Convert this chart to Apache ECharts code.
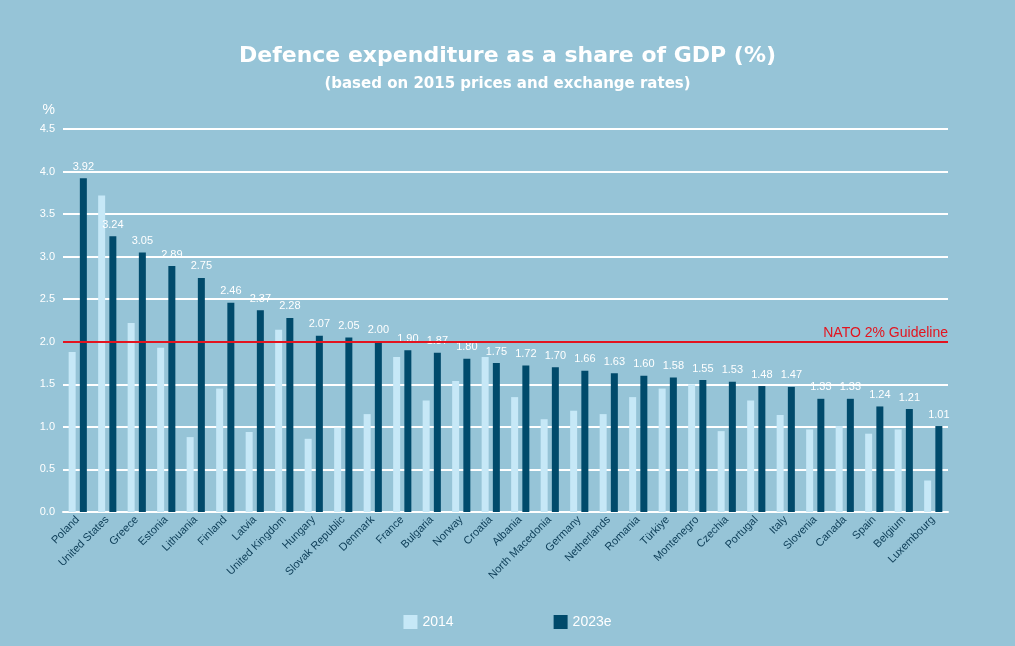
<!DOCTYPE html>
<html><head><meta charset="utf-8">
<script src="https://cdn.jsdelivr.net/npm/echarts@6/dist/echarts.min.js"></script>
<style>html,body{margin:0;background:#96c4d7}#c{width:1015px;height:646px}</style>
</head><body><div id="c"></div>
<script>
const categories=["Poland","United States","Greece","Estonia","Lithuania","Finland","Latvia","United Kingdom","Hungary","Slovak Republic","Denmark","France","Bulgaria","Norway","Croatia","Albania","North Macedonia","Germany","Netherlands","Romania","Türkiye","Montenegro","Czechia","Portugal","Italy","Slovenia","Canada","Spain","Belgium","Luxembourg"];
const values2014=[1.88,3.72,2.22,1.93,0.88,1.45,0.94,2.14,0.86,0.99,1.15,1.82,1.31,1.54,1.82,1.35,1.09,1.19,1.15,1.35,1.45,1.50,0.95,1.31,1.14,0.97,1.01,0.92,0.97,0.37];
const values2023=[3.92,3.24,3.05,2.89,2.75,2.46,2.37,2.28,2.07,2.05,2.00,1.90,1.87,1.80,1.75,1.72,1.70,1.66,1.63,1.60,1.58,1.55,1.53,1.48,1.47,1.33,1.33,1.24,1.21,1.01];
const yTicks=[0,0.5,1,1.5,2,2.5,3,3.5,4,4.5];
const guideline=2;
const ch=echarts.init(document.getElementById('c'));
ch.setOption({
 backgroundColor:'#96c4d7',
 title:{text:'Defence expenditure as a share of GDP (%)',subtext:'(based on 2015 prices and exchange rates)',left:'center',top:40,itemGap:10,
  textStyle:{color:'#fff',fontSize:22,fontWeight:'bold',fontFamily:'DejaVu Sans'},
  subtextStyle:{color:'#fff',fontSize:15,fontWeight:'bold',fontFamily:'DejaVu Sans'}},
 legend:{bottom:12,left:'center',itemGap:100,itemWidth:14,itemHeight:14,icon:'rect',textStyle:{color:'#fff',fontSize:14,fontFamily:'Liberation Sans'}},
 grid:{left:63,right:67,top:129,bottom:134,containLabel:false},
 xAxis:{type:'category',data:categories,axisTick:{show:false},axisLine:{lineStyle:{color:'#fff',width:2}},
  axisLabel:{rotate:45,color:'#0d3d57',fontSize:11,fontFamily:'Liberation Sans',interval:0,margin:6}},
 yAxis:{type:'value',min:0,max:4.5,interval:0.5,name:'%',nameLocation:'end',nameGap:12,nameTextStyle:{color:'#fff',fontSize:14,align:'right',padding:[0,8,0,0]},
  axisLabel:{color:'#fff',fontSize:11,formatter:v=>v.toFixed(1)},axisLine:{show:false},axisTick:{show:false},
  splitLine:{lineStyle:{color:'#fff',width:2}}},
 series:[
  {name:'2014',type:'bar',data:values2014,barWidth:7,barGap:'60%',itemStyle:{color:'#c6e8f7'}},
  {name:'2023e',type:'bar',data:values2023,barWidth:7,itemStyle:{color:'#004a6b'},
   label:{show:true,position:'top',color:'#fff',fontSize:11,formatter:p=>p.value.toFixed(2),distance:6},
   markLine:{silent:true,symbol:'none',data:[{yAxis:guideline}],lineStyle:{color:'#e3141f',width:2,type:'solid'},
    label:{position:'insideEndTop',formatter:'NATO 2% Guideline',color:'#e3141f',fontSize:14,distance:[0,2]}}}
 ]
});
</script></body></html>
